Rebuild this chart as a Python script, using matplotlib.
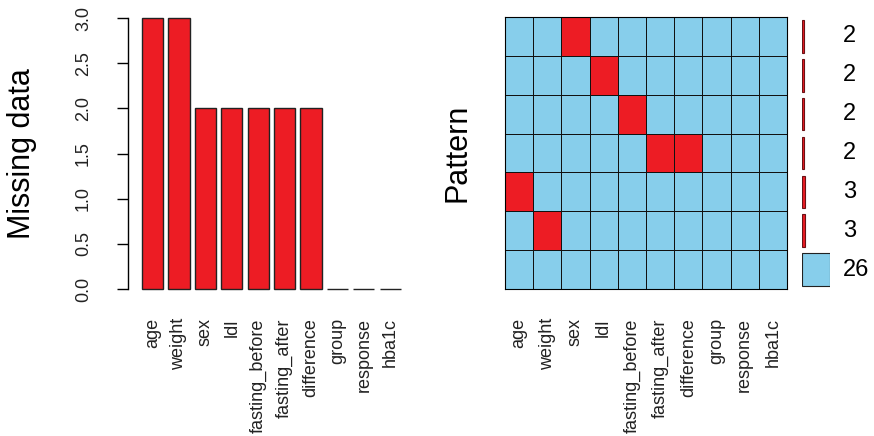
import matplotlib
matplotlib.use("Agg")
import matplotlib.pyplot as plt
import matplotlib.transforms as mtransforms
from matplotlib.colors import ListedColormap
import numpy as np

plt.rcParams['font.family'] = ['Liberation Sans', 'DejaVu Sans']

variables = ["age", "weight", "sex", "ldl", "fasting_before", "fasting_after",
             "difference", "group", "response", "hba1c"]
missing_counts = [3, 3, 2, 2, 2, 2, 2, 0, 0, 0]

# missingness patterns, top row first (1 = missing)
patterns = [
    [0, 0, 1, 0, 0, 0, 0, 0, 0, 0],
    [0, 0, 0, 1, 0, 0, 0, 0, 0, 0],
    [0, 0, 0, 0, 1, 0, 0, 0, 0, 0],
    [0, 0, 0, 0, 0, 1, 1, 0, 0, 0],
    [1, 0, 0, 0, 0, 0, 0, 0, 0, 0],
    [0, 1, 0, 0, 0, 0, 0, 0, 0, 0],
    [0, 0, 0, 0, 0, 0, 0, 0, 0, 0],
]
pattern_counts = [2, 2, 2, 2, 3, 3, 26]

RED = '#ED1C24'
SKY = '#87CEEB'
W, H = 874, 436


def frac(x0, y0, x1, y1):
    # pixel box (top-left origin) -> figure fraction rect
    return [x0 / W, (H - y1) / H, (x1 - x0) / W, (y1 - y0) / H]


fig = plt.figure(figsize=(W / 100, H / 100), dpi=100)

# bar chart of missing values per variable
ax1 = fig.add_axes(frac(128, 18, 420, 289))
pos = np.arange(len(variables))
ax1.bar(pos, missing_counts, width=0.8, color=RED, edgecolor='#222222',
        linewidth=1.0, clip_on=False)
ax1.set_xlim(-0.93, -0.93 + 292 / 26.4)
ax1.set_ylim(0, 3)
ax1.set_yticks([0, 0.5, 1.0, 1.5, 2.0, 2.5, 3.0])
ax1.set_yticklabels(["0.0", "0.5", "1.0", "1.5", "2.0", "2.5", "3.0"],
                    rotation=90, va='center', fontsize=13, color='#222222')
ax1.tick_params(axis='y', length=8, width=1.0, pad=18)
ax1.set_xticks(pos)
ax1.set_xticklabels(variables, rotation=90, fontsize=13, color='#222222')
ax1.tick_params(axis='x', length=0, pad=21)
for s in ['top', 'right', 'bottom']:
    ax1.spines[s].set_visible(False)
ax1.spines['left'].set_linewidth(1.0)

fig.text(22 / W, (H - 153.5) / H, "Missing data", rotation=90,
         ha='center', va='center', fontsize=22)

# pattern grid
ax2 = fig.add_axes(frac(505, 17, 787, 289))
mat = np.array(patterns)
ax2.pcolormesh(np.arange(len(variables) + 1), np.arange(len(patterns) + 1), mat,
               cmap=ListedColormap([SKY, RED]), vmin=0, vmax=1,
               edgecolors='#111111', linewidth=0.7)
ax2.set_xlim(0, len(variables))
ax2.set_ylim(len(patterns), 0)
ax2.set_xticks(pos + 0.5)
ax2.set_xticklabels(variables, rotation=90, fontsize=13, color='#222222')
ax2.tick_params(axis='x', length=0, pad=21)
ax2.set_yticks([])
for s in ax2.spines.values():
    s.set_linewidth(0.8)

fig.text(458 / W, (H - 153) / H, "Pattern", rotation=90,
         ha='center', va='center', fontsize=22)

# pattern frequencies on the right
ax3 = fig.add_axes(frac(802, 17, 830, 289))
rows = np.arange(len(patterns)) + 0.5
ax3.barh(rows, pattern_counts, height=0.84, left=0,
         color=[RED if c < max(pattern_counts) else SKY for c in pattern_counts],
         edgecolor=['#6a1216' if c < max(pattern_counts) else '#222222'
                    for c in pattern_counts],
         linewidth=0.8)
ax3.set_xlim(0, max(pattern_counts))
ax3.set_ylim(len(patterns), 0)
ax3.axis('off')
trans = mtransforms.blended_transform_factory(ax3.transAxes, ax3.transData)
for r, c in zip(rows, pattern_counts):
    ax3.text(41 / 28, r, str(c), transform=trans, ha='left', va='center',
             fontsize=17)

fig.savefig("out.png", dpi=100)
